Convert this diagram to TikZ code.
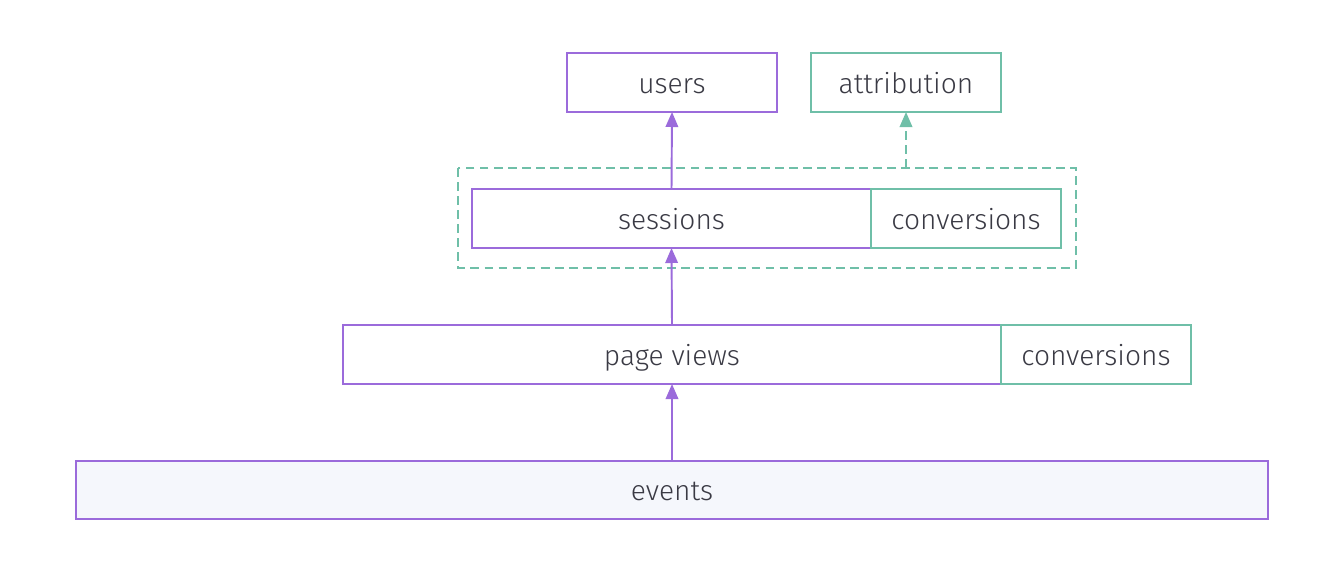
\documentclass[tikz,border=0pt]{standalone}
\usepackage{fontspec}
\setmainfont{Fira Sans}[UprightFont=* Light]
\usetikzlibrary{arrows.meta,positioning}
\definecolor{modelpurple}{HTML}{9B6BDB}
\definecolor{modelgreen}{HTML}{6FBFA8}
\definecolor{labelgray}{HTML}{3A3A44}
\definecolor{basefill}{HTML}{F5F7FC}
\tikzset{>={Triangle[width=0.25cm,length=0.3cm]}}
\tikzset{model/.style={draw=modelpurple,line width=1.1pt,fill=white,text=labelgray,
    minimum height=1.18cm,inner sep=0pt,outer sep=0pt,text height=13pt,text depth=1pt,
    font=\fontsize{16}{18}\selectfont}}
\tikzset{derived/.style={model,draw=modelgreen}}
\begin{document}
\begin{tikzpicture}[x=0.02cm,y=-0.02cm]
        \useasboundingbox (0,0) rectangle (1334,566);
        % grouping of sessions and conversions
        \draw[modelgreen,line width=1.1pt,dashed,dash pattern=on 5pt off 3pt]
            (458,168) rectangle (1076,268);
        \coordinate (grouptop) at (906,168);
        \node[model,minimum width=4.2cm]  (users)       at (672,82.5) {users};
        \node[derived,minimum width=3.8cm] (attribution) at (906,82.5) {attribution};
        \node[model,minimum width=7.98cm] (sessions)    at (671.5,218.5) {sessions};
        \node[derived,minimum width=3.8cm,right=0pt of sessions] (sessconv) {conversions};
        \node[model,minimum width=13.16cm] (pageviews)  at (672,354.5) {page views};
        \node[derived,minimum width=3.8cm,right=0pt of pageviews] (pvconv) {conversions};
        \node[model,fill=basefill,minimum width=23.84cm,minimum height=1.16cm] (events) at (672,490) {events};
        \path[->,modelpurple,line width=1.1pt]
            (events.north)    edge (pageviews.south)
            (pageviews.north) edge (sessions.south)
            (sessions.north)  edge (users.south)
        ;
        \draw[->,modelgreen,line width=1.1pt,dash pattern=on 5pt off 3pt] (grouptop) -- (attribution.south);
    \end{tikzpicture}
\end{document}
